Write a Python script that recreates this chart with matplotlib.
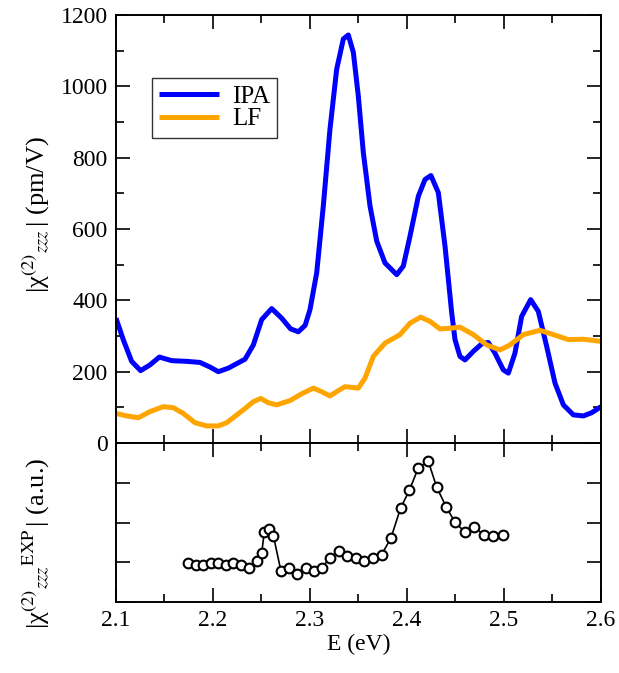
import matplotlib
matplotlib.use("Agg")
import matplotlib.pyplot as plt
from matplotlib.ticker import MultipleLocator

plt.rcParams['font.family'] = ['Liberation Serif', 'DejaVu Serif']
plt.rcParams['mathtext.fontset'] = 'stix'

# IPA curve (pm/V)
ipa_e = [2.1, 2.1076, 2.1161, 2.1254, 2.135, 2.1447, 2.1574, 2.1729, 2.1866, 2.1969,
         2.2055, 2.2158, 2.233, 2.2416, 2.2502, 2.2605, 2.2708, 2.2800, 2.2880, 2.2950,
         2.3, 2.3069, 2.3137, 2.3206, 2.3275, 2.3344, 2.3395, 2.3447, 2.3498, 2.355,
         2.3619, 2.3688, 2.3773, 2.3894, 2.3962, 2.4031, 2.4117, 2.4186, 2.4247, 2.4323,
         2.4392, 2.4461, 2.4495, 2.4546, 2.4598, 2.4684, 2.477, 2.4838, 2.4907, 2.4993,
         2.5045, 2.5113, 2.5182, 2.5275, 2.5354, 2.544, 2.5526, 2.5612, 2.5715, 2.5818,
         2.5904, 2.6]
ipa_chi = [350, 289, 229, 203, 219, 241, 231, 229, 226, 213,
           200, 210, 235, 275, 346, 377, 350, 320, 312, 330,
           374, 477, 664, 880, 1048, 1133, 1144, 1095, 973, 814,
           664, 566, 505, 472, 496, 580, 692, 739, 750, 702,
           552, 365, 290, 243, 233, 257, 278, 282, 252, 205,
           196, 252, 355, 402, 369, 271, 168, 107, 79, 76,
           85, 102]

# LF curve (pm/V)
lf_e = [2.1, 2.111, 2.123, 2.135, 2.1488, 2.1591, 2.1694, 2.1814, 2.1935, 2.2055,
        2.2141, 2.2313, 2.2416, 2.2492, 2.257, 2.2656, 2.2794, 2.2914, 2.3034, 2.312,
        2.3206, 2.328, 2.3361, 2.3498, 2.3567, 2.3653, 2.3773, 2.3928, 2.4031, 2.4141,
        2.4237, 2.434, 2.445, 2.4546, 2.4684, 2.4822, 2.4959, 2.5062, 2.5199, 2.5371,
        2.5508, 2.5663, 2.5818, 2.6]
lf_chi = [83, 76, 71, 88, 102, 99, 83, 57, 48, 48,
          57, 93, 116, 125, 113, 107, 119, 138, 154, 144,
          132, 145, 158, 154, 182, 243, 280, 304, 336, 353,
          341, 320, 322, 325, 304, 275, 261, 275, 304, 316,
          304, 290, 291, 285]

# experimental data (a.u.)
exp_e = [2.1746, 2.1821, 2.19, 2.1979, 2.2055, 2.213, 2.2208, 2.2287, 2.2375, 2.2457,
         2.2502, 2.2529, 2.258, 2.2622, 2.2701, 2.2787, 2.2869, 2.2955, 2.304, 2.312,
         2.3206, 2.3299, 2.3385, 2.3474, 2.356, 2.3653, 2.3739, 2.3835, 2.3935, 2.4024,
         2.4117, 2.422, 2.4306, 2.4402, 2.4495, 2.4598, 2.4694, 2.4794, 2.489, 2.4993]
exp_chi = [0.983, 0.941, 0.941, 0.983, 0.983, 0.941, 0.983, 0.941, 0.857, 1.042,
           1.227, 1.773, 1.840, 1.672, 0.773, 0.857, 0.706, 0.857, 0.773, 0.857,
           1.109, 1.277, 1.168, 1.109, 1.025, 1.109, 1.193, 1.613, 2.370, 2.807,
           3.378, 3.538, 2.891, 2.403, 2.008, 1.756, 1.882, 1.689, 1.672, 1.689]

fig = plt.figure(figsize=(6.19, 6.73), dpi=100)
ax1 = fig.add_axes([0.1874, 0.3417, 0.7835, 0.636])
ax2 = fig.add_axes([0.1874, 0.1055, 0.7835, 0.2362], sharex=ax1)

ax1.plot(ipa_e, ipa_chi, color='#0000ff', lw=3.6, label='IPA',
         solid_joinstyle='round', solid_capstyle='butt')
ax1.plot(lf_e, lf_chi, color='#ffa500', lw=3.6, label='LF',
         solid_joinstyle='round', solid_capstyle='butt')
ax2.plot(exp_e, exp_chi, color='black', lw=1.2, marker='o', ms=7,
         mfc='white', mec='black', mew=1.5)

ax1.set_xlim(2.1, 2.6)
ax1.set_ylim(0, 1200)
ax2.set_ylim(0, 4)

ax1.yaxis.set_major_locator(MultipleLocator(200))
ax1.yaxis.set_minor_locator(MultipleLocator(100))
ax1.xaxis.set_major_locator(MultipleLocator(0.1))
ax1.xaxis.set_minor_locator(MultipleLocator(0.05))
ax2.yaxis.set_major_locator(MultipleLocator(1))

for ax in (ax1, ax2):
    ax.tick_params(which='both', direction='in', top=True, right=True, width=1.2)
    ax.tick_params(which='major', length=10, labelsize=17, pad=6)
    ax.tick_params(which='minor', length=6)
    for s in ax.spines.values():
        s.set_linewidth(1.4)

ax1.tick_params(labelbottom=False)
ax2.tick_params(labelleft=False)
ax2.set_xticks([2.1, 2.2, 2.3, 2.4, 2.5, 2.6])
ax2.set_xticklabels(['2.1', '2.2', '2.3', '2.4', '2.5', '2.6'])

# y labels placed by hand like in the original figure
fig.text(36 / 619, 1 - 215 / 673, r'|χ$^{(2)}{}_{zzz}\,$| (pm/V)', fontsize=19,
         rotation=90, ha='center', va='center')
fig.text(36 / 619, 1 - 543 / 673, r'|χ$^{(2)}{}_{zzz}{}^{\mathrm{EXP}}\,$| (a.u.)', fontsize=19,
         rotation=90, ha='center', va='center')
ax2.set_xlabel('E (eV)', fontsize=17, labelpad=2)

leg = ax1.legend(loc='upper left', bbox_to_anchor=(0.074, 0.853), fontsize=18,
                 frameon=True, fancybox=False, handlelength=2.4, handletextpad=0.5,
                 borderpad=0.3, labelspacing=0.0, borderaxespad=0)
leg.get_frame().set_edgecolor('black')
leg.get_frame().set_linewidth(1.0)

fig.savefig('out.png', dpi=100)
